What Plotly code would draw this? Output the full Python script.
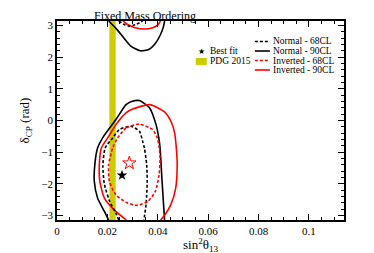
import plotly.graph_objects as go
import math

PI = math.pi

# ---- data ----
# Normal ordering 90% CL (black solid): lower piece and wrapped top piece
n90_low_x = [0.0205, 0.0188, 0.0161, 0.0148, 0.0150, 0.0161, 0.0181, 0.0234, 0.0274, 0.0296, 0.0327,
             0.0367, 0.0393, 0.0404, 0.0409, 0.0417, 0.0423, 0.0427]
n90_low_y = [-PI, -2.87, -2.45, -1.92, -1.40, -0.87, -0.55, 0.03, 0.50, 0.60, 0.63,
             0.40, -0.13, -0.55, -0.87, -1.92, -2.66, -PI]
n90_top_x = [0.0205, 0.0235, 0.0260, 0.0293, 0.0330, 0.0364, 0.0390, 0.0410, 0.0422, 0.0427]
n90_top_y = [PI, 2.90, 2.66, 2.35, 2.20, 2.24, 2.43, 2.70, 2.95, PI]

# Inverted ordering 90% CL (red solid)
i90_low_x = [0.0275, 0.0227, 0.0188, 0.0170, 0.0168, 0.0176, 0.0201, 0.0234, 0.0274, 0.0300, 0.0368,
             0.0427, 0.0455, 0.0467, 0.0475, 0.0477, 0.0471, 0.0451, 0.0427, 0.0411]
i90_low_y = [-PI, -2.82, -2.45, -1.92, -1.40, -0.87, -0.55, -0.13, 0.24, 0.36, 0.50,
             0.27, -0.08, -0.40, -1.03, -1.41, -2.14, -2.67, -2.99, -PI]
i90_top_x = [0.0262, 0.0280, 0.0310, 0.0345, 0.0380, 0.0400, 0.0411]
i90_top_y = [PI, 3.03, 2.93, 2.89, 2.93, 3.02, PI]

# Normal ordering 68% CL (black dashed)
n68_low_x = [0.0245, 0.0234, 0.0209, 0.0188, 0.0182, 0.0191, 0.0221, 0.0247, 0.0293, 0.0327, 0.0340,
             0.0347, 0.0356, 0.0358, 0.0354, 0.0345]
n68_low_y = [-PI, -2.93, -2.55, -2.01, -1.44, -0.87, -0.55, -0.29, -0.18, -0.34, -0.66,
             -0.87, -1.40, -1.92, -2.61, -PI]
n68_top_x = [0.0245, 0.0265, 0.0285, 0.0310, 0.0340]
n68_top_y = [PI, 3.04, 2.98, 3.02, PI]

# Inverted ordering 68% CL (red dashed, closed)
i68_x = [0.0327, 0.0274, 0.0241, 0.0221, 0.0205, 0.0208, 0.0234, 0.0274, 0.0313, 0.0360, 0.0390,
         0.0405, 0.0409, 0.0406, 0.0398, 0.0380, 0.0327]
i68_y = [-0.11, -0.24, -0.55, -0.87, -1.40, -1.92, -2.35, -2.58, -2.68, -2.56, -2.24,
         -1.72, -1.19, -0.87, -0.55, -0.29, -0.11]

# Best fit points
bf_normal = (0.0258, -1.73)
bf_inverted = (0.0287, -1.345)

# PDG 2015 band
pdg_lo, pdg_hi = 0.0208, 0.0233

FONT = "Liberation Serif"

fig = go.Figure()

def seg(ax, ay, bx, by):
    return ax + [None] + bx, ay + [None] + by

x, y = seg(n90_low_x, n90_low_y, n90_top_x, n90_top_y)
fig.add_trace(go.Scatter(x=x, y=y, mode="lines", line=dict(color="black", width=1.6, shape="spline", smoothing=0.6)))
x, y = seg(i90_low_x, i90_low_y, i90_top_x, i90_top_y)
fig.add_trace(go.Scatter(x=x, y=y, mode="lines", line=dict(color="#ff0000", width=1.6, shape="spline", smoothing=0.6)))
x, y = seg(n68_low_x, n68_low_y, n68_top_x, n68_top_y)
fig.add_trace(go.Scatter(x=x, y=y, mode="lines", line=dict(color="black", width=1.6, dash="3px,2px", shape="spline", smoothing=0.6)))
fig.add_trace(go.Scatter(x=i68_x, y=i68_y, mode="lines", line=dict(color="#ff0000", width=1.6, dash="3px,2px", shape="spline", smoothing=0.6)))

fig.add_trace(go.Scatter(x=[bf_normal[0]], y=[bf_normal[1]], mode="markers",
                         marker=dict(symbol="star", color="black", size=8, line=dict(width=0))))
fig.add_trace(go.Scatter(x=[bf_inverted[0]], y=[bf_inverted[1]], mode="markers",
                         marker=dict(symbol="star-open", color="#ff0000", size=10, line=dict(width=1))))

fig.add_shape(type="rect", xref="x", yref="y", x0=pdg_lo, x1=pdg_hi, y0=-PI, y1=PI,
              fillcolor="#cccc00", line=dict(width=0), layer="below")

# ---- manual legend ----
L = 49.5; R = 336.0; T = 13.0; B = 212.0
def px(xp): return (xp - L) / (R - L)
def py(yp): return (B - yp) / (B - T)

def note(xp, yp, text, size=9.5, xanchor="left", family=FONT, **kw):
    return dict(x=px(xp), y=py(yp), xref="paper", yref="paper", text=text, showarrow=False,
                xanchor=xanchor, yanchor="middle", font=dict(family=family, size=size, color="black"), **kw)

ann = []
ann.append(note(194, 43.5, "★", size=8, xanchor="center", family="DejaVu Sans"))
ann.append(note(200, 43, "Best fit"))
ann.append(note(200, 53, "PDG 2015"))
fig.add_shape(type="rect", xref="paper", yref="paper", x0=px(188), x1=px(199), y0=py(57), y1=py(50),
              fillcolor="#cccc00", line=dict(width=0))

leg_items = [("Normal - 68CL", "black", "3px,2px"), ("Normal - 90CL", "black", "solid"),
             ("Inverted - 68CL", "#ff0000", "3px,2px"), ("Inverted - 90CL", "#ff0000", "solid")]
rows = [33.5, 43, 52.5, 62]
for (lab, col, dash), r in zip(leg_items, rows):
    fig.add_shape(type="line", xref="paper", yref="paper", x0=px(247), x1=px(262), y0=py(r), y1=py(r),
                  line=dict(color=col, width=1.6, dash=dash))
    ann.append(note(263.5, r, lab))

ann.append(note(137, 7.5, "Fixed Mass Ordering", size=12, xanchor="center"))
ann.append(note(193, 237, "sin<sup>2</sup>θ<sub>13</sub>", size=13, xanchor="center"))
ann.append(note(18, 112, "δ<sub>CP</sub> (rad)", size=13, xanchor="center", textangle=-90))

axis_common = dict(showgrid=False, zeroline=False, showline=True, linecolor="black", linewidth=1.5,
                   mirror="allticks", ticks="inside", ticklen=6, tickwidth=1, tickcolor="black",
                   tickfont=dict(family=FONT, size=11, color="black"))

fig.update_layout(
    width=374, height=253,
    margin=dict(l=49, r=38, t=13, b=41),
    paper_bgcolor="white", plot_bgcolor="white",
    showlegend=False,
    annotations=ann,
    font=dict(family=FONT, color="black"),
    xaxis=dict(range=[0, 0.1139], tickvals=[0, 0.02, 0.04, 0.06, 0.08, 0.1],
               ticktext=["0", "0.02", "0.04", "0.06", "0.08", "0.1"],
               minor=dict(dtick=0.005, tick0=0, ticks="inside", ticklen=3, tickcolor="black"),
               **axis_common),
    yaxis=dict(range=[-PI, PI], tickvals=[-3, -2, -1, 0, 1, 2, 3],
               ticktext=["\u22123", "\u22122", "\u22121", "0", "1", "2", "3"],
               minor=dict(dtick=0.2, tick0=0, ticks="inside", ticklen=3, tickcolor="black"),
               **axis_common),
)

fig.write_html("out.html")
